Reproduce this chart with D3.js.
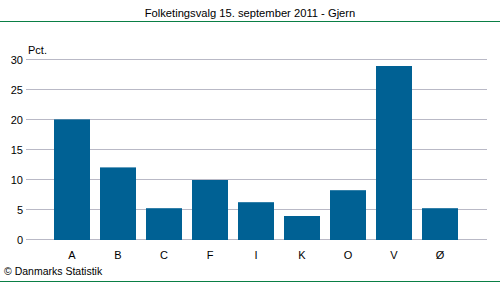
<!DOCTYPE html>
<html lang="da">
<head>
    <meta charset="UTF-8">
    <title>Folketingsvalg 15. september 2011 - Gjern</title>
    <style>
        body { margin: 0; background: #fff; }
        svg { display: block; font-family: "Liberation Sans", Arial, sans-serif; }
    </style>
</head>
<body>
    <div id="chart"></div>

    <script src="https://d3js.org/d3.v7.min.js"></script>
    <script>
        const parties = ["A", "B", "C", "F", "I", "K", "O", "V", "Ø"];
        const pct = [20.1, 12.1, 5.3, 10.0, 6.3, 4.0, 8.3, 29.0, 5.3];
        const yTicks = [0, 5, 10, 15, 20, 25, 30];

        const width = 500;
        const height = 282;

        const svg = d3.select("#chart").append("svg")
            .attr("width", width)
            .attr("height", height);

        // title + green rules
        svg.append("text")
            .attr("x", 250)
            .attr("y", 17)
            .attr("text-anchor", "middle")
            .style("font-size", "11.2px")
            .style("fill", "#000")
            .text("Folketingsvalg 15. september 2011 - Gjern");

        svg.append("line")
            .attr("x1", 0).attr("x2", width)
            .attr("y1", 21.5).attr("y2", 21.5)
            .attr("stroke", "#0a7f45")
            .attr("stroke-width", 1);

        svg.append("line")
            .attr("x1", 0).attr("x2", width)
            .attr("y1", 281.5).attr("y2", 281.5)
            .attr("stroke", "#0a7f45")
            .attr("stroke-width", 1);

        const x = d3.scaleBand()
            .domain(parties)
            .range([49, 463])
            .paddingInner(10 / 46)
            .paddingOuter(5 / 46);

        const y = d3.scaleLinear()
            .domain([0, 30])
            .range([240, 60]);

        // gridlines
        svg.append("g")
            .selectAll("line")
            .data(yTicks)
            .enter()
            .append("line")
            .attr("x1", 26)
            .attr("x2", 487)
            .attr("y1", d => Math.round(y(d)) - 0.5)
            .attr("y2", d => Math.round(y(d)) - 0.5)
            .attr("stroke", "#b9b9c6")
            .attr("stroke-width", 1);

        // y labels
        svg.append("g")
            .selectAll("text")
            .data(yTicks)
            .enter()
            .append("text")
            .attr("x", 23)
            .attr("y", d => y(d) + 4)
            .attr("text-anchor", "end")
            .style("font-size", "11px")
            .text(d => d);

        svg.append("text")
            .attr("x", 28)
            .attr("y", 54)
            .style("font-size", "11px")
            .text("Pct.");

        // bars
        svg.append("g")
            .selectAll("rect")
            .data(parties)
            .enter()
            .append("rect")
            .attr("x", d => x(d))
            .attr("y", (d, i) => y(pct[i]))
            .attr("width", x.bandwidth())
            .attr("height", (d, i) => y(0) - y(pct[i]))
            .attr("fill", "#006194");

        // x labels
        svg.append("g")
            .selectAll("text")
            .data(parties)
            .enter()
            .append("text")
            .attr("x", d => x(d) + x.bandwidth() / 2)
            .attr("y", 259)
            .attr("text-anchor", "middle")
            .style("font-size", "11px")
            .text(d => d);

        svg.append("text")
            .attr("x", 4)
            .attr("y", 275)
            .style("font-size", "10.5px")
            .text("© Danmarks Statistik");
    </script>
</body>
</html>
